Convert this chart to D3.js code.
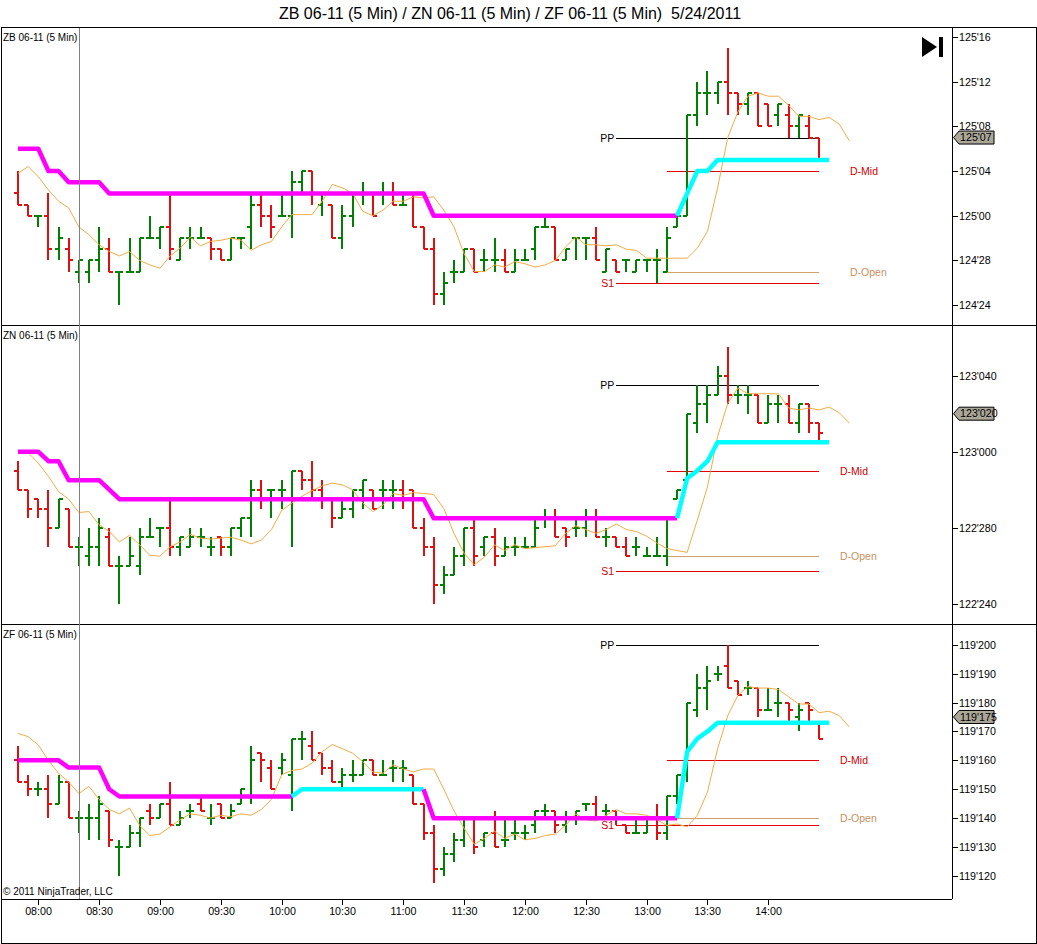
<!DOCTYPE html>
<html>
<head>
<meta charset="utf-8">
<script src="https://cdn.jsdelivr.net/npm/d3@7"></script>
<style>
html, body { margin: 0; padding: 0; background: #fff; }
svg { display: block; font-family: Arial, "Liberation Sans", sans-serif; }
</style>
</head>
<body>
<svg id="chart" width="1037" height="944"></svg>
<script>
// ---- data (prices in 32nds, relative to each contract's base) ----
const chartTitle = "ZB 06-11 (5 Min) / ZN 06-11 (5 Min) / ZF 06-11 (5 Min)  5/24/2011";
const firstBarTime = "07:50";
const barMinutes = 5;
const timeLabels = ["08:00","08:30","09:00","09:30","10:00","10:30","11:00",
                    "11:30","12:00","12:30","13:00","13:30","14:00"];
const cursorBar = 6;

// ZB: 32nds above 124'00, bars are [open, high, low, close]
const zbBase = 124 * 32;
const zbBars = [
  [34,36,33,33],[33,33,32,32],[32,32,31,32],[32,34,28,29],[29,31,28,30],
  [29,30,27,28],[27,28,26,28],[27,28,26,28],[28,31,27,29],[29,30,27,27],
  [27,27,24,27],[27,30,27,27],[27,30,27,30],[30,32,30,30],[30,31,29,31],
  [31,34,28,29],[28,30,28,30],[30,31,29,30],[30,31,30,30],[30,30,28,29],
  [29,29,28,28],[28,30,28,30],[30,30,29,30],[31,34,29,33],[33,34,31,32],
  [32,33,30,31],[32,34,32,32],[32,36,30,35],[35,36,34,36],[36,36,33,34],
  [33,34,32,34],[33,33,30,30],[30,33,29,32],[32,34,31,34],[34,35,33,34],
  [34,34,32,32],[34,35,33,34],[34,35,33,33],[33,34,33,33],[34,34,31,31],
  [31,31,29,29],[29,30,24,25],[25,27,24,26],[27,28,26,27],[27,29,27,29],
  [29,29,27,27],[28,29,27,28],[28,30,27,28],[28,29,27,27],[27,29,27,28],
  [28,29,28,28],[29,31,28,31],[31,32,31,31],[31,31,28,28],[28,29,28,29],
  [30,30,28,30],[30,30,28,30],[30,31,28,28],[27,29,27,29],[28,28,27,27],
  [28,28,27,28],[27,28,27,28],[28,28,27,28],[28,29,26,28],[27,31,27,30],
  [31,32,31,32],[32,41,32,41],[41,44,40,43],[43,45,41,43],[43,44,42,44],
  [44,47,41,43],[43,43,41,42],[42,43,41,43],[43,43,40,40],[42,42,40,40],
  [41,42,40,42],[41,42,39,40],[40,41,39,41],[40,41,39,39],[39,39,37,37]
];
const zbTrail = [
  38,38,38,36,36,35,35,35,35,34, 34,34,34,34,34,34,34,34,34,34,
  34,34,34,34,34,34,34,34,34,34, 34,34,34,34,34,34,34,34,34,34,
  34,32,32,32,32,32,32,32,32,32, 32,32,32,32,32,32,32,32,32,32,
  32,32,32,32,32,32,34,36,36,37, 37,37,37,37,37,37,37,37,37,37, 37
];
const zbAvg = [
  35.8,36.4,35.5,34.3,33.3,32.7,31.0,30.3,29.4,28.8, 28.4,28.8,28.0,27.6,27.3,28.4,29.1,30.1,29.3,29.7,
  29.8,30.0,29.8,28.9,29.4,29.7,31.0,32.1,32.1,32.1, 33.3,34.8,34.5,34.0,32.4,32.0,32.5,33.3,33.3,33.7,
  33.6,33.7,32.5,31.0,28.6,27.0,27.0,27.6,27.4,27.9, 27.7,27.4,27.6,28.0,29.2,30.1,29.4,29.4,29.3,29.4,
  29.0,28.9,28.2,28.2,28.2,28.2,28.2,29.1,30.6,34.5, 39.0,41.3,42.7,43.0,42.7,42.7,41.9,40.9,40.9,40.6,
  40.8,40.2,38.7
];
const zbLevels = [["PP",39],["D-Mid",36],["D-Open",27],["S1",26]];
const zbTicks = [24,28,32,36,40,44,48];
const zbLast = 39;

// ZN: 32nds relative to 123'00
const znBase = 123 * 32;
const znBars = [
  [-1,-0.5,-2,-2],[-2,-2,-3.5,-3],[-2.5,-2.5,-3.5,-3],[-3,-2,-5,-4],[-4,-2.5,-4,-2.5],
  [-3,-3,-5,-5],[-5,-4.5,-6,-5],[-5.5,-4,-6,-5],[-5,-3.5,-6,-4],[-4.5,-4,-6,-6],
  [-6,-5.5,-8,-6],[-6,-4.5,-6,-5.5],[-6,-4,-6.5,-4.5],[-4.5,-3.5,-4.5,-4.5],[-4,-4,-5,-4],
  [-4,-2.5,-5.5,-5],[-5,-4.5,-5.5,-4.5],[-5,-4,-5,-4.5],[-4.5,-4,-5,-4.5],[-5,-4.5,-5.5,-5],
  [-4.5,-4.5,-5.5,-5],[-5,-4,-5.5,-4],[-4,-3.5,-4.5,-3.5],[-3.5,-1.5,-4.5,-2],[-2,-1.5,-3,-2.5],
  [-2,-2,-3.5,-2],[-2,-1.5,-3,-2],[-2.5,-1,-5,-1],[-1,-1,-2,-1.5],[-1.5,-0.5,-2.5,-2],
  [-2,-1.5,-3,-2.5],[-2.5,-2.5,-4,-3.5],[-3.5,-2.5,-3.5,-3],[-3,-2,-3.5,-2],[-2,-1.5,-3,-1.5],
  [-2,-2,-3,-3],[-2,-1.5,-3,-2],[-2,-1.5,-3,-2],[-2,-1.5,-3,-2.5],[-2,-2,-4,-4],
  [-4,-3.5,-5.5,-5],[-5,-4.5,-8,-7],[-7,-6,-7.5,-6.5],[-6.5,-5,-6.5,-5.5],[-5.5,-4,-6,-4],
  [-4,-3.5,-6,-5.5],[-5,-4.5,-5.5,-4.5],[-4.5,-4,-6,-5.5],[-5.5,-4.5,-5.5,-5],[-5,-4.5,-5.5,-5],
  [-5,-4.5,-5,-5],[-5,-3.5,-5,-4],[-3.5,-3,-4,-3.5],[-3.5,-3,-4.5,-4.5],[-4,-4,-5,-4.5],
  [-4,-3.5,-4.5,-4],[-4,-3,-4.5,-3.5],[-3.5,-3,-4.5,-4.5],[-4.5,-4,-5,-4.5],[-4.5,-4.5,-5,-5],
  [-5,-4.5,-5.5,-5.5],[-5,-4.5,-5.5,-5],[-5.5,-5,-5.5,-5.5],[-5.5,-4.5,-5.5,-5.5],[-5.5,-3.5,-6,-3.5],
  [-2.5,-2,-2.5,-2],[-1.5,2,-1.5,2],[1.5,3.5,1,2.5],[2.5,3.5,1.5,3],[3,4.5,3,4],
  [4,5.5,2.5,3],[3,3.5,2.5,3],[3,3.5,2,3],[3,3,1.5,1.5],[1.5,3,1.5,2.5],
  [2.5,3,1.5,2.5],[2.5,3,1.5,1.5],[1.5,2.5,1,2.5],[2.5,2.5,1,1.5],[1.5,1.5,0.5,1]
];
const znTrail = [
  0,0,0,-0.5,-0.5,-1.5,-1.5,-1.5,-1.5,-2,
  -2.5,-2.5,-2.5,-2.5,-2.5,-2.5,-2.5,-2.5,-2.5,-2.5,
  -2.5,-2.5,-2.5,-2.5,-2.5,-2.5,-2.5,-2.5,-2.5,-2.5,
  -2.5,-2.5,-2.5,-2.5,-2.5,-2.5,-2.5,-2.5,-2.5,-2.5,
  -2.5,-3.5,-3.5,-3.5,-3.5,-3.5,-3.5,-3.5,-3.5,-3.5,
  -3.5,-3.5,-3.5,-3.5,-3.5,-3.5,-3.5,-3.5,-3.5,-3.5,
  -3.5,-3.5,-3.5,-3.5,-3.5,-3.5,-1.4,-1,-0.5,0.5,
  0.5,0.5,0.5,0.5,0.5,0.5,0.5,0.5,0.5,0.5, 0.5
];
const znAvg = [
  0,-0.05,-0.6,-1.3,-2.1,-2.5,-3.2,-3.15,-3.85,-4.2, -4.75,-4.4,-4.9,-5.45,-5.5,-5.0,-4.75,-4.35,-4.55,-4.6,
  -4.55,-4.5,-4.65,-4.85,-4.65,-4.1,-3.1,-2.7,-2.35,-2.05, -1.8,-1.65,-1.75,-2.0,-2.7,-3.15,-2.8,-2.2,-2.3,-2.15,
  -2.2,-2.25,-3.0,-4.3,-5.35,-5.95,-5.55,-4.9,-5.2,-4.9, -5.1,-5.05,-5.0,-4.95,-4.3,-3.9,-4.1,-4.3,-4.1,-3.8,
  -4.1,-4.2,-4.45,-4.8,-5.1,-5.2,-5.3,-3.6,-1.85,0.8, 2.55,3.35,3.05,3.05,3.05,3.05,2.3,2.2,2.3,2.2,
  2.35,2.05,1.5
];
const znLevels = [["PP",3.5],["D-Mid",-1],["D-Open",-5.5],["S1",-6.3]];
const znTicks = [-8,-4,0,4];
const znLast = 2;

// ZF: 32nds relative to 119'16
const zfBase = 119 * 32 + 16;
const zfBars = [
  [0,0.5,-0.75,-0.75],[-0.75,-0.5,-1.25,-1],[-1,-0.75,-1.25,-1],[-1,-0.5,-2,-1.5],[-1.5,-0.5,-1.5,-0.75],
  [-0.75,-0.75,-2,-2],[-2,-1.75,-2.5,-2],[-2,-1.5,-2.75,-2],[-2,-1.25,-2.75,-1.5],[-1.75,-1.75,-3,-2.75],
  [-3,-2.75,-4,-3],[-3,-2.25,-3,-2.5],[-2.5,-2,-3,-2],[-1.75,-1.5,-2.25,-2],[-2,-1.5,-2,-1.5],
  [-1.5,-0.75,-2.25,-2.25],[-2.25,-1.75,-2.25,-2],[-1.75,-1.5,-2,-1.75],[-1.5,-1.25,-1.75,-1.75],[-2,-1.5,-2.25,-2],
  [-1.5,-1.5,-2,-2],[-2,-1.5,-2,-1.75],[-1.5,-1,-1.5,-1],[-1.25,0.5,-1.5,0],[0.25,0.25,-0.75,0],
  [-0.25,0,-1,-1],[-0.25,0.25,-0.5,0],[-0.5,0.75,-1.75,0.75],[0.75,1,0,0.75],[0.5,1,0,0],
  [0.25,0.25,-0.5,-0.25],[-0.25,0,-0.75,-0.75],[-0.75,-0.25,-1,-0.5],[-0.5,0,-0.75,-0.5],[-0.5,0,-0.5,0],
  [0,0,-0.5,-0.5],[-0.5,0,-0.5,-0.5],[-0.25,0,-0.75,-0.25],[-0.25,0,-0.75,-0.25],[-0.5,-0.5,-1.5,-1.5],
  [-1.5,-1.5,-2.75,-2.5],[-2.5,-2.25,-4.25,-3.75],[-3.75,-3,-4,-3.25],[-3.25,-2.5,-3.5,-2.75],[-2.75,-2,-3,-2],
  [-2,-2,-3.25,-3],[-2.75,-2.5,-3,-2.5],[-2.5,-1.75,-3,-3],[-2.75,-2,-3,-2.75],[-2.5,-2,-2.75,-2.5],
  [-2.5,-2.25,-2.75,-2.5],[-2.25,-1.75,-2.5,-1.75],[-1.75,-1.5,-2,-1.75],[-1.75,-1.75,-2.5,-2.25],[-2.25,-1.75,-2.5,-2],
  [-2,-1.75,-2.25,-1.75],[-1.5,-1.5,-1.75,-1.5],[-1.5,-1.25,-2,-2],[-1.75,-1.5,-2,-1.75],[-1.75,-1.75,-2.25,-2],
  [-2.25,-2.25,-2.5,-2.5],[-2.5,-2,-2.5,-2.5],[-2.5,-2,-2.5,-2],[-2,-1.5,-2.75,-2.5],[-2.5,-1.25,-2.75,-1.25],
  [-1.25,-0.5,-1.5,-0.5],[-0.5,2,-0.75,2],[1.75,3,1.5,2.5],[2.5,3.25,1.75,2.75],[3,3.25,2.75,3],
  [3.25,4,2.5,2.5],[2.75,2.75,2.25,2.25],[2.5,2.75,2.25,2.5],[2.5,2.5,1.5,1.75],[1.75,2.5,1.75,1.75],
  [2,2.5,1.5,2],[2,2,1.25,1.75],[1.5,2,1,1.75],[2,2,1.25,1.75],[1.25,1.25,0.75,0.75]
];
const zfTrail = [
  0,0,0,0,0,-0.25,-0.25,-0.25,-0.25,-1,
  -1.25,-1.25,-1.25,-1.25,-1.25,-1.25,-1.25,-1.25,-1.25,-1.25,
  -1.25,-1.25,-1.25,-1.25,-1.25,-1.25,-1.25,-1.25,-1,-1,
  -1,-1,-1,-1,-1,-1,-1,-1,-1,-1,
  -1,-2,-2,-2,-2,-2,-2,-2,-2,-2,
  -2,-2,-2,-2,-2,-2,-2,-2,-2,-2,
  -2,-2,-2,-2,-2,-2,0.3,0.75,1,1.3,
  1.3,1.3,1.3,1.3,1.3,1.3,1.3,1.3,1.3,1.3, 1.3
];
const zfAvg = [
  0.93,0.82,0.53,0.0,-0.45,-0.75,-1.15,-0.9,-1.35,-1.7, -1.85,-1.65,-2.25,-2.6,-2.55,-2.3,-2.05,-1.85,-1.9,-2.0,
  -1.9,-1.95,-1.85,-1.9,-1.7,-1.35,-0.5,-0.35,-0.3,-0.1, 0.3,0.55,0.4,0.25,-0.05,-0.4,-0.45,-0.15,-0.3,-0.4,
  -0.3,-0.3,-1.0,-1.75,-2.35,-2.9,-2.7,-2.45,-2.7,-2.55, -2.75,-2.7,-2.6,-2.55,-2.25,-1.85,-2.05,-2.1,-1.9,-1.7,
  -1.85,-1.85,-1.9,-2.05,-2.25,-2.2,-2.3,-1.9,-1.1,0.4, 1.55,2.25,2.55,2.5,2.5,2.45,2.2,1.95,1.95,1.65,
  1.7,1.55,1.15
];
const zfLevels = [["PP",4],["D-Mid",0],["D-Open",-2],["S1",-2.25]];
const zfTicks = [-4,-3,-2,-1,0,1,2,3,4];
const zfLast = 1.5;

// ---- layout / styles ----
const upColor = "#008000", downColor = "#e01010";
const levelStyle = {
  "PP":     { color: "#000000", text: "#000000", from: 59, labelLeft: true },
  "D-Mid":  { color: "#e00000", text: "#d00000", from: 64, labelLeft: false },
  "D-Open": { color: "#d2a070", text: "#c89060", from: 64, labelLeft: false },
  "S1":     { color: "#e00000", text: "#d00000", from: 59, labelLeft: true }
};
const levelEnd = 79;

const svg = d3.select("#chart");
const plotL = 1, plotR = 952, frameR = 1036, timeTop = 899, frameB = 943;
const x = d3.scaleLinear().domain([0, 79]).range([18, 819]);

function toMinutes(t) { const p = t.split(":"); return +p[0] * 60 + +p[1]; }
const startMin = toMinutes(firstBarTime);

function fmtPrice(base, v) {
  const total = base + v;
  const handle = Math.floor(total / 32);
  const frac = total - handle * 32;
  const whole = Math.floor(frac + 1e-9);
  return { handle, whole, part: Math.floor((frac - whole) * 10 + 1e-6) };
}
const fmtBond = (base) => (v) => { const p = fmtPrice(base, v); return p.handle + "'" + String(p.whole).padStart(2, "0"); };
const fmtNote = (base) => (v) => { const p = fmtPrice(base, v); return p.handle + "'" + String(p.whole).padStart(2, "0") + p.part; };

const panels = [
  { label: "ZB 06-11 (5 Min)", bars: zbBars, trail: zbTrail, avg: zbAvg, levels: zbLevels, ticks: zbTicks,
    last: zbLast, fmt: fmtBond(zbBase), top: 27, bottom: 325,
    y: d3.scaleLinear().domain([24, 48]).range([305.1, 37]), levelX: 850, icon: true },
  { label: "ZN 06-11 (5 Min)", bars: znBars, trail: znTrail, avg: znAvg, levels: znLevels, ticks: znTicks,
    last: znLast, fmt: fmtNote(znBase), top: 325, bottom: 624,
    y: d3.scaleLinear().domain([-8, 4]).range([603.7, 375.7]), levelX: 840 },
  { label: "ZF 06-11 (5 Min)", bars: zfBars, trail: zfTrail, avg: zfAvg, levels: zfLevels, ticks: zfTicks,
    last: zfLast, fmt: fmtNote(zfBase), top: 624, bottom: 899,
    y: d3.scaleLinear().domain([-4, 4]).range([876, 644.7]), levelX: 840 }
];

// background
svg.append("rect").attr("width", 1037).attr("height", 944).attr("fill", "#fff");

// title
svg.append("text")
  .attr("x", 510).attr("y", 18.5)
  .attr("text-anchor", "middle")
  .style("white-space", "pre")
  .attr("font-size", 16)
  .text(chartTitle);

// split a stop line into runs coloured by the direction of its last move
function trailRuns(vals) {
  const runs = [];
  let cur = { dir: -1, pts: [0] };
  for (let i = 1; i < vals.length; i++) {
    const d = vals[i] - vals[i - 1];
    const nd = d > 0 ? 1 : d < 0 ? -1 : cur.dir;
    if (nd !== cur.dir) { runs.push(cur); cur = { dir: nd, pts: [i - 1] }; }
    cur.pts.push(i);
  }
  runs.push(cur);
  return runs;
}

panels.forEach(function (p) {
  const g = svg.append("g");
  const y = p.y;

  // level lines
  p.levels.forEach(function (lv) {
    const st = levelStyle[lv[0]];
    const yy = Math.round(y(lv[1])) + 0.5;
    g.append("line")
      .attr("x1", x(st.from)).attr("x2", x(levelEnd))
      .attr("y1", yy).attr("y2", yy)
      .attr("stroke", st.color).attr("stroke-width", 1)
      .attr("shape-rendering", "crispEdges");
    const t = g.append("text")
      .attr("y", yy).attr("dy", "0.35em")
      .attr("font-size", 10.5)
      .attr("fill", st.text)
      .text(lv[0]);
    if (st.labelLeft) {
      t.attr("x", x(st.from) - 2).attr("text-anchor", "end");
    } else {
      t.attr("x", p.levelX).attr("text-anchor", "start");
    }
  });

  // OHLC bars
  const bar = g.append("g").attr("shape-rendering", "crispEdges").attr("stroke-width", 2)
    .selectAll("g").data(p.bars).join("g")
    .attr("stroke", d => d[3] >= d[0] ? upColor : downColor);
  bar.append("line")
    .attr("x1", (d, i) => x(i)).attr("x2", (d, i) => x(i))
    .attr("y1", d => y(d[1])).attr("y2", d => y(d[2]));
  bar.append("line")
    .attr("x1", (d, i) => x(i) - 4).attr("x2", (d, i) => x(i))
    .attr("y1", d => y(d[0])).attr("y2", d => y(d[0]));
  bar.append("line")
    .attr("x1", (d, i) => x(i)).attr("x2", (d, i) => x(i) + 4)
    .attr("y1", d => y(d[3])).attr("y2", d => y(d[3]));

  // moving average
  g.append("path")
    .datum(p.avg)
    .attr("fill", "none")
    .attr("stroke", "#f3ab45")
    .attr("stroke-width", 1)
    .attr("d", d3.line().x((d, i) => x(i)).y(d => y(d)));

  // trailing line
  const line = d3.line().x(i => x(i)).y(i => y(p.trail[i]));
  trailRuns(p.trail).forEach(function (r) {
    g.append("path")
      .attr("d", line(r.pts))
      .attr("fill", "none")
      .attr("stroke", r.dir > 0 ? "#00ffff" : "#ff00ff")
      .attr("stroke-width", 4.5)
      .attr("stroke-linejoin", "round");
  });

  // panel label
  g.append("text")
    .attr("x", 3).attr("y", p.top + 13.5)
    .attr("font-size", 10)
    .text(p.label);

  // right price axis
  const ax = g.append("g").attr("font-size", 10.7);
  p.ticks.forEach(function (v) {
    const yy = Math.round(y(v)) + 0.5;
    ax.append("line").attr("x1", plotR).attr("x2", plotR + 6)
      .attr("y1", yy).attr("y2", yy).attr("stroke", "#000")
      .attr("shape-rendering", "crispEdges");
    ax.append("text").attr("x", plotR + 7).attr("y", yy).attr("dy", "0.35em")
      .text(p.fmt(v));
  });

  // last price marker
  const ly = y(p.last);
  ax.append("path")
    .attr("d", `M${plotR + 1.5},${ly} L${plotR + 7},${ly - 6.5} L${plotR + 42},${ly - 6.5} L${plotR + 42},${ly + 6.5} L${plotR + 7},${ly + 6.5} Z`)
    .attr("fill", "#aaa698").attr("stroke", "#000").attr("stroke-width", 1);
  ax.append("text").attr("x", plotR + 8).attr("y", ly).attr("dy", "0.35em")
    .text(p.fmt(p.last));

  // panel bottom separator
  g.append("line")
    .attr("x1", plotL).attr("x2", p.bottom === timeTop ? plotR : frameR)
    .attr("y1", p.bottom + 0.5).attr("y2", p.bottom + 0.5)
    .attr("stroke", "#000").attr("shape-rendering", "crispEdges");

  if (p.icon) {
    g.append("path").attr("d", "M922,37 L937,47 L922,57 Z").attr("fill", "#000");
    g.append("rect").attr("x", 939).attr("y", 37).attr("width", 4).attr("height", 20).attr("fill", "#000");
  }
});

// cursor line
svg.append("line")
  .attr("x1", Math.round(x(cursorBar)) + 0.5).attr("x2", Math.round(x(cursorBar)) + 0.5)
  .attr("y1", 27).attr("y2", timeTop)
  .attr("stroke", "#808080").attr("shape-rendering", "crispEdges");

// copyright
svg.append("text")
  .attr("x", 3).attr("y", 895)
  .attr("font-size", 10)
  .text("\u00a9 2011 NinjaTrader, LLC");

// frame and price-axis border
svg.append("rect")
  .attr("x", 1.5).attr("y", 27.5)
  .attr("width", frameR - 1).attr("height", frameB - 27)
  .attr("fill", "none").attr("stroke", "#000").attr("shape-rendering", "crispEdges");
svg.append("line")
  .attr("x1", plotR + 0.5).attr("x2", plotR + 0.5)
  .attr("y1", 27).attr("y2", timeTop)
  .attr("stroke", "#000").attr("shape-rendering", "crispEdges");

// time axis
const tx = svg.append("g").attr("font-size", 10.7);
timeLabels.forEach(function (t) {
  const i = (toMinutes(t) - startMin) / barMinutes;
  const xx = Math.round(x(i)) + 0.5;
  tx.append("line").attr("x1", xx).attr("x2", xx)
    .attr("y1", timeTop).attr("y2", timeTop + 6)
    .attr("stroke", "#000").attr("shape-rendering", "crispEdges");
  tx.append("text").attr("x", xx).attr("y", 915).attr("text-anchor", "middle").text(t);
});
</script>
</body>
</html>
